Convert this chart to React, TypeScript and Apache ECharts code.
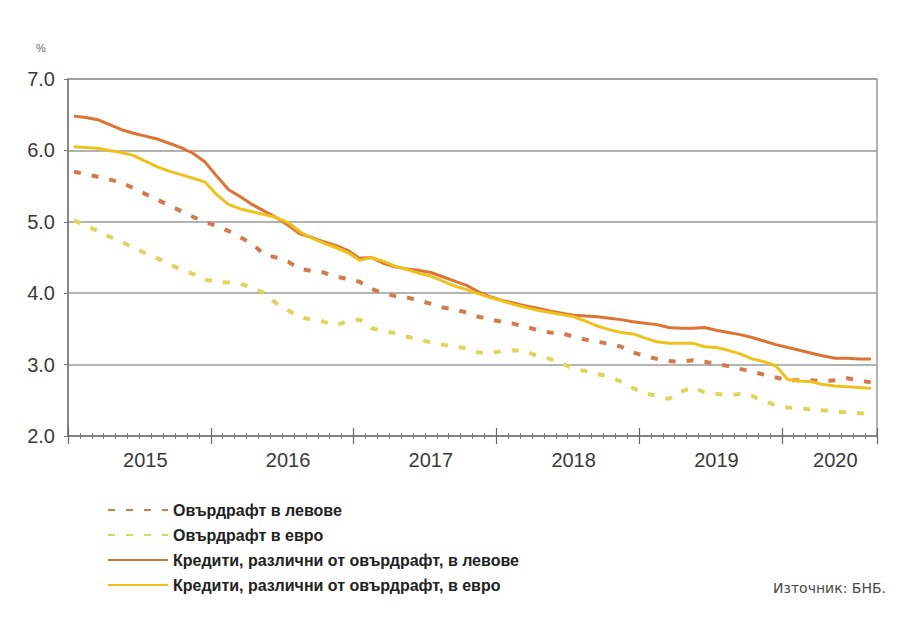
import React, { useEffect, useRef } from "react";
import * as echarts from "echarts";

const years = ["2015", "2016", "2017", "2018", "2019", "2020"];
const monthsInLastYear = 8;
const categories: string[] = [];
years.forEach((y, yi) => {
  const n = yi === years.length - 1 ? monthsInLastYear : 12;
  for (let m = 1; m <= n; m++) categories.push(`${y}-${m < 10 ? "0" + m : m}`);
});

const seriesNames = [
  "Овърдрафт в левове",
  "Овърдрафт в евро",
  "Кредити, различни от овърдрафт, в левове",
  "Кредити, различни от овърдрафт, в евро",
];

const overdraftBgn = [
  5.70, 5.67, 5.63, 5.59, 5.55, 5.47, 5.39, 5.31, 5.23, 5.15, 5.07, 5.00,
  4.94, 4.87, 4.78, 4.69, 4.54, 4.50, 4.44, 4.34, 4.31, 4.29, 4.23, 4.20,
  4.16, 4.06, 4.00, 3.96, 3.94, 3.90, 3.85, 3.80, 3.77, 3.73, 3.67, 3.63,
  3.60, 3.57, 3.53, 3.48, 3.45, 3.44, 3.39, 3.35, 3.32, 3.29, 3.25, 3.17,
  3.12, 3.08, 3.05, 3.04, 3.06, 3.04, 3.01, 2.98, 2.94, 2.90, 2.86, 2.82,
  2.78, 2.78, 2.78, 2.77, 2.78, 2.81, 2.78, 2.75,
];

const overdraftEur = [
  5.02, 4.95, 4.87, 4.79, 4.72, 4.64, 4.56, 4.49, 4.41, 4.33, 4.27, 4.19,
  4.16, 4.15, 4.13, 4.08, 4.00, 3.86, 3.76, 3.66, 3.63, 3.60, 3.55, 3.61,
  3.63, 3.51, 3.47, 3.44, 3.39, 3.35, 3.31, 3.28, 3.25, 3.23, 3.17, 3.16,
  3.19, 3.20, 3.18, 3.12, 3.08, 3.02, 2.94, 2.91, 2.87, 2.83, 2.76, 2.67,
  2.60, 2.56, 2.52, 2.62, 2.68, 2.61, 2.59, 2.57, 2.59, 2.56, 2.49, 2.43,
  2.40, 2.39, 2.37, 2.36, 2.34, 2.33, 2.32, 2.31,
];

const loansBgn = [
  6.48, 6.46, 6.43, 6.36, 6.29, 6.24, 6.20, 6.16, 6.10, 6.04, 5.96, 5.84,
  5.64, 5.45, 5.35, 5.24, 5.15, 5.06, 4.95, 4.83, 4.78, 4.72, 4.67, 4.60,
  4.49, 4.50, 4.42, 4.37, 4.34, 4.32, 4.29, 4.23, 4.17, 4.11, 4.02, 3.95,
  3.90, 3.86, 3.82, 3.79, 3.75, 3.72, 3.69, 3.68, 3.67, 3.65, 3.63, 3.60,
  3.58, 3.56, 3.52, 3.51, 3.51, 3.52, 3.48, 3.45, 3.42, 3.38, 3.33, 3.28,
  3.24, 3.20, 3.16, 3.12, 3.09, 3.09, 3.08, 3.08,
];

const loansEur = [
  6.05, 6.04, 6.03, 6.00, 5.97, 5.93, 5.85, 5.77, 5.71, 5.66, 5.61, 5.56,
  5.38, 5.24, 5.18, 5.14, 5.10, 5.06, 4.99, 4.86, 4.77, 4.70, 4.64, 4.57,
  4.46, 4.50, 4.45, 4.38, 4.33, 4.28, 4.24, 4.17, 4.10, 4.05, 3.99, 3.94,
  3.89, 3.84, 3.80, 3.76, 3.73, 3.70, 3.67, 3.61, 3.54, 3.49, 3.45, 3.43,
  3.37, 3.32, 3.30, 3.30, 3.30, 3.25, 3.24, 3.20, 3.15, 3.08, 3.04, 2.98,
  2.79, 2.77, 2.76, 2.72, 2.70, 2.69, 2.68, 2.67,
];

const yTicks = [2, 3, 4, 5, 6, 7];

const colors = ["#D27A4E", "#DDD55C", "#DD7436", "#EEC21E"];

export default function App() {
  const ref = useRef<HTMLDivElement>(null);
  useEffect(() => {
    if (!ref.current) return;
    const chart = echarts.init(ref.current, null, { renderer: "svg" });
    const font = "'Liberation Sans', Arial, sans-serif";
    const lastLabelIndex = categories.length - 1 - 3; // center of partial 2020
    const baseX = {
      type: "category" as const,
      data: categories,
      boundaryGap: true,
      position: "bottom" as const,
      gridIndex: 0,
    };
    chart.setOption({
      animation: false,
      backgroundColor: "#ffffff",
      textStyle: { fontFamily: font },
      grid: {
        left: 68,
        right: 40,
        top: 79,
        bottom: 182,
        show: true,
        borderColor: "#9a9a9a",
        borderWidth: 1.5,
      },
      legend: {
        orient: "vertical",
        left: 102,
        top: 497,
        itemWidth: 60,
        itemHeight: 16,
        itemGap: 9,
        data: seriesNames,
        itemStyle: { opacity: 0 },
        textStyle: {
          fontFamily: font,
          fontSize: 16,
          fontWeight: "bold",
          color: "#222",
        },
      },
      xAxis: [
        {
          ...baseX,
          axisLine: { show: true, lineStyle: { color: "#777", width: 1.5 } },
          axisTick: {
            show: true,
            interval: 0,
            length: 3,
            lineStyle: { color: "#777" },
          },
          axisLabel: {
            interval: (index: number) =>
              (index % 12 === 6 && index < 60) || index === lastLabelIndex,
            formatter: (v: string) => v.slice(0, 4),
            fontSize: 20,
            color: "#3a3a3a",
            margin: 14,
          },
          splitLine: { show: false },
        },
        {
          ...baseX,
          axisLine: { show: false },
          axisTick: {
            show: true,
            inside: true,
            interval: 0,
            length: 3,
            lineStyle: { color: "#777" },
          },
          axisLabel: { show: false },
          splitLine: { show: false },
        },
        {
          ...baseX,
          axisLine: { show: false },
          axisTick: {
            show: true,
            interval: (index: number) => index % 12 === 0,
            length: 8,
            lineStyle: { color: "#666", width: 1.2 },
          },
          axisLabel: { show: false },
          splitLine: { show: false },
        },
        {
          ...baseX,
          axisLine: { show: false },
          axisTick: {
            show: true,
            inside: true,
            interval: (index: number) => index % 12 === 0,
            length: 8,
            lineStyle: { color: "#666", width: 1.2 },
          },
          axisLabel: { show: false },
          splitLine: { show: false },
        },
      ],
      yAxis: {
        type: "value",
        min: yTicks[0],
        max: yTicks[yTicks.length - 1],
        interval: 1,
        axisLine: { show: true, lineStyle: { color: "#777", width: 1.5 } },
        axisTick: { show: true, length: 4, lineStyle: { color: "#777" } },
        axisLabel: {
          formatter: (v: number) => v.toFixed(1),
          fontSize: 20,
          color: "#3a3a3a",
          margin: 13,
        },
        splitLine: { show: true, lineStyle: { color: "#9a9a9a", width: 1.5 } },
      },
      graphic: [
        {
          type: "text",
          left: 36,
          top: 42,
          style: { text: "%", fontSize: 11, fill: "#666", fontFamily: font },
        },
        {
          type: "text",
          right: 31,
          top: 581,
          style: {
            text: "Източник: БНБ.",
            fontSize: 14,
            fill: "#4a4a4a",
            fontFamily: "'DejaVu Sans', sans-serif",
          },
        },
      ],
      series: [
        {
          name: seriesNames[0],
          type: "line",
          data: overdraftBgn,
          symbol: "none",
          lineStyle: { color: colors[0], width: 4, type: [7, 11] },
          itemStyle: { color: colors[0] },
        },
        {
          name: seriesNames[1],
          type: "line",
          data: overdraftEur,
          symbol: "none",
          lineStyle: { color: colors[1], width: 4, type: [7, 11] },
          itemStyle: { color: colors[1] },
        },
        {
          name: seriesNames[2],
          type: "line",
          data: loansBgn,
          symbol: "none",
          lineStyle: { color: colors[2], width: 3 },
          itemStyle: { color: colors[2] },
        },
        {
          name: seriesNames[3],
          type: "line",
          data: loansEur,
          symbol: "none",
          lineStyle: { color: colors[3], width: 3 },
          itemStyle: { color: colors[3] },
        },
      ],
    });
    return () => chart.dispose();
  }, []);
  return (
    <div
      ref={ref}
      style={{ position: "fixed", left: 0, top: 0, width: 917, height: 618 }}
    />
  );
}
